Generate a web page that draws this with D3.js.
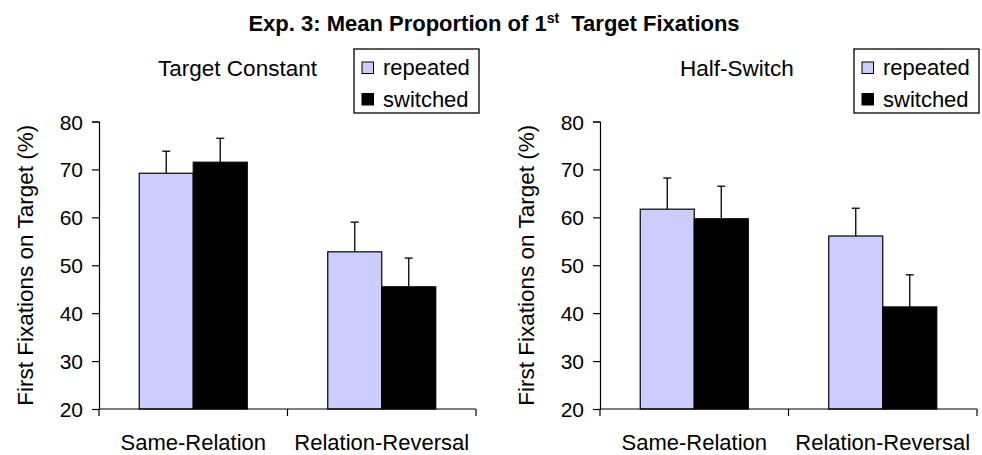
<!DOCTYPE html>
<html>
<head>
<meta charset="utf-8">
<script src="https://cdn.jsdelivr.net/npm/d3@7"></script>
<style>
    body { margin: 0; background: #fff; }
    text { font-family: "Liberation Sans", Arial, sans-serif; fill: #000; }
</style>
</head>
<body>
<div id="chart"></div>
<script>
var categories = ["Same-Relation", "Relation-Reversal"];
var seriesNames = ["repeated", "switched"];
var yTicks = [20, 30, 40, 50, 60, 70, 80];

var panelTitles = ["Target Constant", "Half-Switch"];

// means per panel, [repeated, switched] for each category
var constantRepeated = [69.2, 52.8];
var constantSwitched = [71.5, 45.5];
var constantRepeatedErr = [4.6, 6.2];
var constantSwitchedErr = [5.0, 6.0];

var halfRepeated = [61.7, 56.1];
var halfSwitched = [59.7, 41.3];
var halfRepeatedErr = [6.5, 5.8];
var halfSwitchedErr = [6.8, 6.7];

function makeChart() {
    var W = 982,
        H = 455;
    var svg = d3
        .select("#chart")
        .append("svg")
        .attr("width", W)
        .attr("height", H);

    var color = d3.scaleOrdinal().domain(seriesNames).range(["#ccccff", "#000000"]);

    // title with superscript
    var title = svg
        .append("text")
        .attr("x", 494)
        .attr("y", 31)
        .attr("text-anchor", "middle")
        .style("font-weight", "bold")
        .style("font-size", "22px");
    title.append("tspan").text("Exp. 3: Mean Proportion of 1");
    title.append("tspan").attr("dy", -8).style("font-size", "14px").text("st");
    title.append("tspan").attr("dy", 8).text("\u00a0 Target Fixations");

    var panels = [
        {
            left: 99,
            title: panelTitles[0],
            titleX: 237.5,
            legendX: 354,
            rep: constantRepeated,
            sw: constantSwitched,
            repErr: constantRepeatedErr,
            swErr: constantSwitchedErr,
        },
        {
            left: 600,
            title: panelTitles[1],
            titleX: 737,
            legendX: 854,
            rep: halfRepeated,
            sw: halfSwitched,
            repErr: halfRepeatedErr,
            swErr: halfSwitchedErr,
        },
    ];

    var width = 377,
        top = 121.5,
        bottom = 409;

    panels.forEach((p) => {
        var g = svg.append("g").attr("transform", "translate(" + p.left + ",0)");

        var x0 = d3.scaleBand().domain(categories).range([0, width]);
        var bw = x0.bandwidth();
        var x1 = d3
            .scaleBand()
            .domain(seriesNames)
            .range([bw / 2 - 54, bw / 2 + 54]);
        var y = d3.scaleLinear().domain([20, 80]).range([bottom, top]);

        var data = [];
        categories.forEach((c, i) => {
            data.push({ cat: c, key: "repeated", v: p.rep[i], e: p.repErr[i] });
            data.push({ cat: c, key: "switched", v: p.sw[i], e: p.swErr[i] });
        });

        // error bars (upper only), drawn behind bars
        var eb = g.selectAll(".err").data(data).enter().append("g");
        eb.append("line")
            .attr("x1", (d) => x0(d.cat) + x1(d.key) + x1.bandwidth() / 2)
            .attr("x2", (d) => x0(d.cat) + x1(d.key) + x1.bandwidth() / 2)
            .attr("y1", (d) => y(d.v))
            .attr("y2", (d) => y(d.v + d.e))
            .attr("stroke", "#000")
            .attr("stroke-width", 1.3);
        eb.append("line")
            .attr("x1", (d) => x0(d.cat) + x1(d.key) + x1.bandwidth() / 2 - 4)
            .attr("x2", (d) => x0(d.cat) + x1(d.key) + x1.bandwidth() / 2 + 4)
            .attr("y1", (d) => y(d.v + d.e))
            .attr("y2", (d) => y(d.v + d.e))
            .attr("stroke", "#000")
            .attr("stroke-width", 1.3);

        g.selectAll(".bar")
            .data(data)
            .enter()
            .append("rect")
            .attr("x", (d) => x0(d.cat) + x1(d.key))
            .attr("y", (d) => y(d.v))
            .attr("width", x1.bandwidth())
            .attr("height", (d) => y(20) - y(d.v))
            .attr("fill", (d) => color(d.key))
            .attr("stroke", "#000")
            .attr("stroke-width", 1.2);

        // y axis
        var yAxis = g
            .append("g")
            .call(d3.axisLeft(y).tickValues(yTicks).tickSize(7).tickPadding(9).tickFormat(d3.format("d")));
        yAxis.selectAll("text").style("font-size", "21px").attr("fill", "#000").attr("dy", "0.36em");
        yAxis.selectAll("line, path").attr("stroke", "#000").attr("stroke-width", 1.2);

        // x axis: line plus ticks at category boundaries
        var xg = g.append("g").attr("transform", "translate(0," + bottom + ")");
        xg.append("line")
            .attr("x1", 0)
            .attr("x2", width)
            .attr("stroke", "#000")
            .attr("stroke-width", 1.2);
        var bounds = categories.map((c) => x0(c)).concat([x0(categories[categories.length - 1]) + bw]);
        xg.selectAll(".xt")
            .data(bounds)
            .enter()
            .append("line")
            .attr("x1", (d) => d)
            .attr("x2", (d) => d)
            .attr("y1", 0)
            .attr("y2", 7)
            .attr("stroke", "#000")
            .attr("stroke-width", 1.2);
        xg.selectAll(".xl")
            .data(categories)
            .enter()
            .append("text")
            .attr("x", (d) => x0(d) + bw / 2)
            .attr("y", 41)
            .attr("text-anchor", "middle")
            .style("font-size", "22px")
            .text((d) => d);

        // y label
        g.append("text")
            .attr("transform", "translate(" + -66 + "," + (top + bottom) / 2 + ") rotate(-90)")
            .attr("text-anchor", "middle")
            .style("font-size", "22.5px")
            .text("First Fixations on Target (%)");

        // panel title
        svg.append("text")
            .attr("x", p.titleX)
            .attr("y", 76)
            .attr("text-anchor", "middle")
            .style("font-size", "22.5px")
            .text(p.title);

        // legend
        var lg = svg.append("g").attr("transform", "translate(" + p.legendX + ",49)");
        lg.append("rect")
            .attr("width", 125)
            .attr("height", 64)
            .attr("fill", "#fff")
            .attr("stroke", "#000")
            .attr("stroke-width", 1.3);
        var items = lg
            .selectAll(".li")
            .data(seriesNames)
            .enter()
            .append("g")
            .attr("transform", (_, i) => "translate(8," + (13 + i * 31.5) + ")");
        items
            .append("rect")
            .attr("width", 11.5)
            .attr("height", 11.5)
            .attr("fill", (d) => color(d))
            .attr("stroke", "#000")
            .attr("stroke-width", 1);
        items
            .append("text")
            .attr("x", 21)
            .attr("y", 13)
            .style("font-size", "22px")
            .text((d) => d);
    });
}

makeChart();
</script>
</body>
</html>
